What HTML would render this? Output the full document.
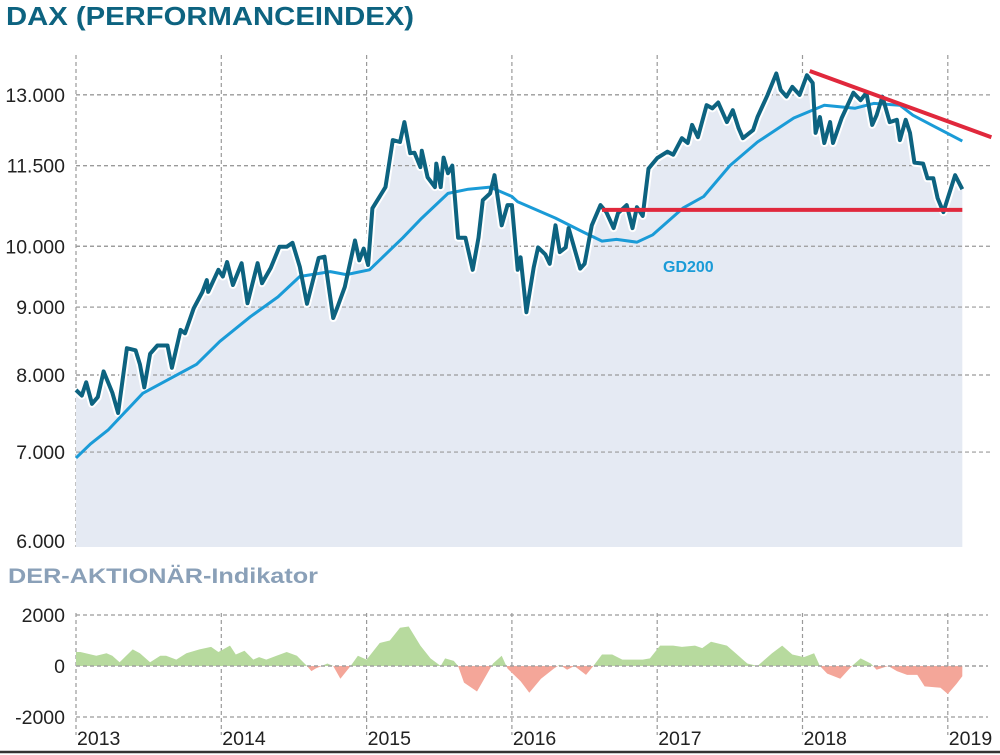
<!DOCTYPE html>
<html><head><meta charset="utf-8"><style>
html,body{margin:0;padding:0;background:#fff;}
svg{display:block;font-family:"Liberation Sans",sans-serif;}
</style></head><body>
<svg id="c" width="1000" height="755" viewBox="0 0 1000 755">
<text x="6" y="25" font-size="26" font-weight="bold" fill="#0d6380" textLength="408" lengthAdjust="spacingAndGlyphs">DAX (PERFORMANCEINDEX)</text>
<text x="8" y="583" font-size="21" font-weight="bold" fill="#8aa0b8" textLength="310" lengthAdjust="spacingAndGlyphs">DER-AKTIONÄR-Indikator</text>
<g id="grid"></g><g id="marks"></g><g id="labels"></g>
<line x1="0" y1="752" x2="1000" y2="752" stroke="#333" stroke-width="2.5"/>
</svg>
<script>
// years offset from 2013.0
const priceT=[0,.04,.07,.11,.15,.19,.25,.29,.35,.41,.44,.47,.51,.56,.63,.66,.72,.75,.81,.87,.90,.91,.98,1.01,1.04,1.08,1.14,1.18,1.25,1.28,1.34,1.40,1.45,1.49,1.54,1.59,1.67,1.71,1.77,1.80,1.85,1.92,1.95,1.98,2.01,2.04,2.13,2.18,2.23,2.26,2.30,2.33,2.37,2.38,2.42,2.47,2.48,2.51,2.53,2.56,2.59,2.63,2.68,2.73,2.77,2.80,2.85,2.88,2.93,2.97,3.00,3.04,3.06,3.10,3.15,3.18,3.23,3.26,3.30,3.33,3.37,3.39,3.47,3.50,3.55,3.61,3.65,3.70,3.73,3.79,3.83,3.86,3.90,3.94,4.00,4.07,4.11,4.17,4.21,4.24,4.28,4.34,4.38,4.42,4.48,4.52,4.56,4.59,4.66,4.69,4.76,4.82,4.85,4.89,4.93,4.98,5.03,5.07,5.09,5.12,5.15,5.19,5.21,5.27,5.35,5.40,5.44,5.48,5.51,5.55,5.60,5.65,5.67,5.71,5.74,5.77,5.83,5.86,5.90,5.93,5.97,6.00,6.05,6.10];
const priceV=[7795,7720,7900,7610,7700,8050,7760,7490,8380,8350,8150,7830,8300,8420,8420,8100,8650,8600,8980,9240,9430,9240,9600,9490,9730,9350,9710,9060,9710,9380,9630,9990,9990,10060,9650,9050,9800,9820,8830,9000,9320,10100,9760,9960,9680,10680,11080,12020,11980,12400,11750,11760,11470,11800,11270,11080,11540,11080,11660,11350,11500,10150,10150,9600,10150,10830,10960,11310,10370,10740,10740,9600,9810,8920,9640,9980,9860,9700,10370,9900,9980,10320,9620,9700,10370,10740,10610,10320,10590,10740,10320,10700,10540,11440,11650,11780,11720,12060,11960,12340,12080,12770,12700,12830,12400,12660,12270,12060,12230,12510,13000,13490,13110,12960,13180,13000,13450,13270,12170,12510,11960,12400,11960,12490,13050,12880,13050,12340,12550,12960,12400,12450,12020,12450,12170,11560,11540,11250,11250,10870,10610,10870,11310,11040];
const gdT=[0,.10,.22,.46,.83,.99,1.20,1.39,1.54,1.75,1.86,2.02,2.25,2.38,2.56,2.70,2.85,3.00,3.04,3.30,3.49,3.62,3.72,3.86,3.97,4.18,4.32,4.50,4.69,4.94,5.15,5.36,5.49,5.67,5.76,5.90,6.10];
const gdV=[6930,7100,7272,7750,8150,8480,8850,9160,9490,9570,9520,9600,10150,10500,10960,11040,11080,10900,10800,10500,10250,10090,10120,10070,10200,10690,10900,11500,11980,12490,12770,12700,12810,12770,12550,12320,12000];
const indT=[0,.03,.14,.21,.25,.30,.39,.44,.51,.58,.62,.69,.76,.85,.93,.98,1.06,1.10,1.16,1.22,1.26,1.31,1.38,1.45,1.52,1.59,1.62,1.65,1.73,1.77,1.82,1.89,1.94,2.0,2.09,2.16,2.23,2.29,2.37,2.44,2.51,2.54,2.60,2.63,2.67,2.76,2.81,2.87,2.93,2.97,3.06,3.12,3.20,3.29,3.33,3.38,3.43,3.51,3.56,3.62,3.69,3.76,3.90,3.95,4.02,4.11,4.17,4.26,4.31,4.37,4.48,4.54,4.62,4.69,4.79,4.86,4.93,5.01,5.08,5.12,5.17,5.26,5.34,5.40,5.47,5.51,5.59,5.65,5.72,5.79,5.84,5.95,6.0,6.06,6.10];
const indV=[550,550,400,500,400,150,650,500,150,400,400,250,500,650,750,550,800,450,600,250,350,250,400,550,400,0,-200,-100,100,0,-500,0,400,250,900,1000,1500,1550,800,300,0,300,200,0,-650,-1000,-500,100,400,-100,-600,-1050,-500,-100,50,-150,0,-350,0,450,450,250,250,300,800,800,750,800,700,950,800,500,100,0,500,800,450,350,500,0,-300,-500,0,300,100,-150,0,-200,-350,-350,-800,-850,-1100,-700,-400];
const yTicks=[6000,7000,8000,9000,10000,11500,13000];
const yTickLabels=["6.000","7.000","8.000","9.000","10.000","11.500","13.000"];
const indTicks=[2000,0,-2000];
const indTickLabels=["2000","0","-2000"];
const years=["2013","2014","2015","2016","2017","2018","2019"];
const support=[10650];
const trendT=[5.05,6.3];
const trendV=[13550,12080];

const NS="http://www.w3.org/2000/svg";
const X0=76,YW=145.3;
const x=t=>X0+t*YW;
const y=v=>541-577*Math.log(v/6000);
const yi=v=>666-v*51/2000;
function mk(tag,attrs,parent){const e=document.createElementNS(NS,tag);for(const k in attrs)e.setAttribute(k,attrs[k]);parent.appendChild(e);return e;}
const G=document.getElementById('grid'),M=document.getElementById('marks'),L=document.getElementById('labels');
const dash={stroke:"#9a9a9a","stroke-width":1.2,"stroke-dasharray":"4 3",fill:"none"};
yTicks.forEach((v,i)=>{
  if(v>6000){const l=mk('line',Object.assign({x1:76,x2:990,y1:y(v),y2:y(v)},dash),G);
  
  }
  const t=mk('text',{x:65,y:y(v)+7,"text-anchor":"end","font-size":19.5,fill:"#222"},L);
  t.textContent=yTickLabels[i];
  
  
});
years.forEach((yr,i)=>{
  const xx=x(i);
  const l=mk('line',Object.assign({x1:xx,x2:xx,y1:55,y2:547},dash),G);
  
  
  const l2=mk('line',Object.assign({x1:xx,x2:xx,y1:613,y2:735},dash),G);
  
  
  const t=mk('text',{x:xx+1,y:745,"font-size":19.5,fill:"#222"},L);
  t.textContent=yr;
  
  
});
indTicks.forEach((v,i)=>{
  const l=mk('line',Object.assign({x1:76,x2:988,y1:yi(v),y2:yi(v)},dash),G);
  
  
  const t=mk('text',{x:65,y:yi(v)+7,"text-anchor":"end","font-size":19.5,fill:"#222"},L);
  t.textContent=indTickLabels[i];
  
  
});
const pPts=priceT.map((t,i)=>x(t).toFixed(1)+','+y(priceV[i]).toFixed(1));
const area=mk('polygon',{points:x(priceT[0])+',547 '+pPts.join(' ')+' '+x(priceT[priceT.length-1])+',547',fill:"#e5eaf3"},M);


yTicks.forEach(v=>{if(v>6000){const l=mk('line',Object.assign({x1:76,x2:963,y1:y(v),y2:y(v)},dash),M);

}});
const halo=mk('polyline',{points:pPts.join(' '),fill:"none",stroke:"#fff","stroke-width":8,"stroke-linejoin":"round"},M);


const gd=mk('polyline',{points:gdT.map((t,i)=>x(t).toFixed(1)+','+y(gdV[i]).toFixed(1)).join(' '),fill:"none",stroke:"#1a9bd7","stroke-width":3,"stroke-linejoin":"round"},M);


const pl=mk('polyline',{points:pPts.join(' '),fill:"none",stroke:"#0d6380","stroke-width":4,"stroke-linejoin":"round"},M);


const sl=mk('line',{x1:x(3.62),x2:x(6.1),y1:y(support[0]),y2:y(support[0]),stroke:"#e0283c","stroke-width":4},M);


const tl=mk('line',{x1:x(trendT[0]),x2:x(trendT[1]),y1:y(trendV[0]),y2:y(trendV[1]),stroke:"#e0283c","stroke-width":4},M);


const gl=mk('text',{x:663,y:272,"font-size":16,"font-weight":"bold",fill:"#1a9bd7"},M);
gl.textContent="GD200";


const defs=mk('defs',{},M);
const c1=mk('clipPath',{id:'pos'},defs);mk('rect',{x:0,y:0,width:1000,height:666},c1);
const c2=mk('clipPath',{id:'neg'},defs);mk('rect',{x:0,y:666,width:1000,height:100},c2);
const iPts=x(indT[0])+','+yi(0)+' '+indT.map((t,i)=>x(t).toFixed(1)+','+yi(indV[i]).toFixed(1)).join(' ')+' '+x(indT[indT.length-1])+','+yi(0);
const ip=mk('polygon',{points:iPts,fill:"#b7da9e","clip-path":"url(#pos)"},M);


const ineg=mk('polygon',{points:iPts,fill:"#f4a699","clip-path":"url(#neg)"},M);


const z=mk('line',Object.assign({x1:76,x2:988,y1:666,y2:666},dash),M);


</script>
</body></html>
